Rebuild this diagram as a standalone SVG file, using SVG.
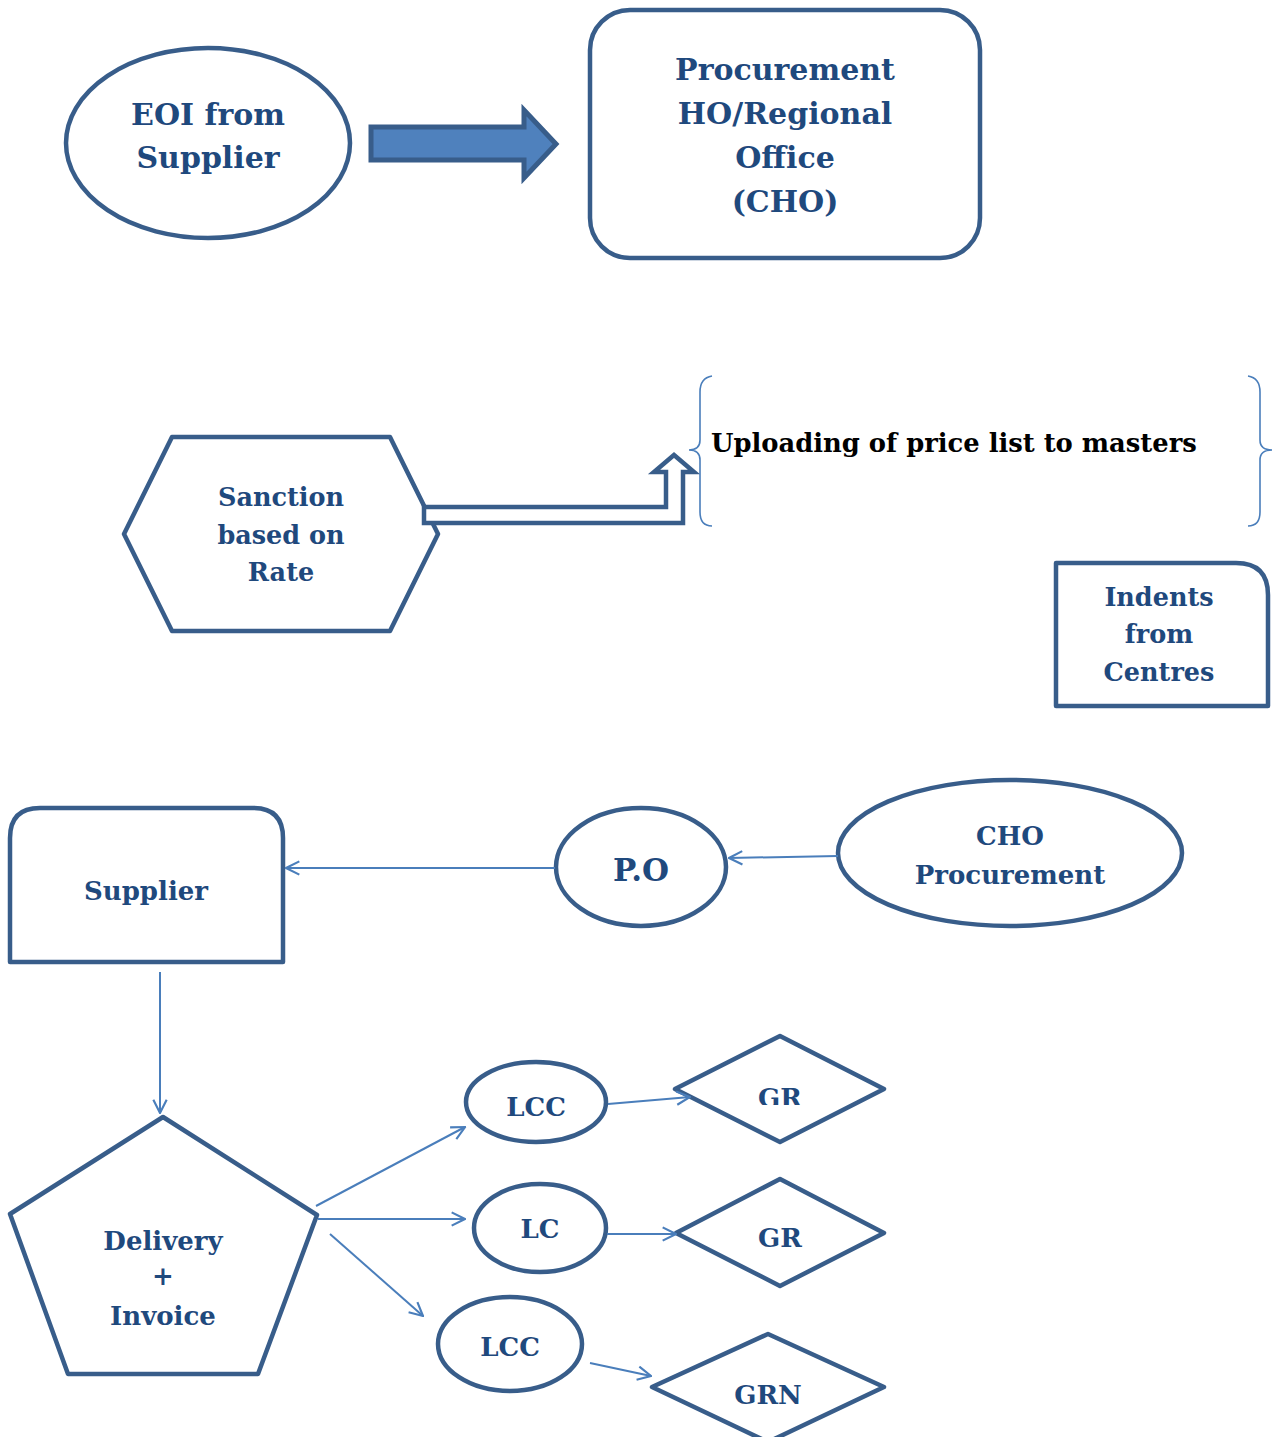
<svg xmlns="http://www.w3.org/2000/svg" width="1275" height="1437" viewBox="0 0 1275 1437">
  <style>
    .shape { fill: #ffffff; stroke: #385D8A; stroke-width: 4.5; stroke-linejoin: round; }
    .lbl { font-family: "DejaVu Serif", "Liberation Serif", serif; font-weight: bold; fill: #1F497D; text-anchor: middle; }
    .conn { fill: none; stroke: #4A7EBB; stroke-width: 2; }
    .brace { fill: none; stroke: #4A7EBB; stroke-width: 1.6; }
  </style>
  <defs>
    <marker id="open" viewBox="0 0 12 12" refX="11" refY="6" markerWidth="16" markerHeight="16" markerUnits="userSpaceOnUse" orient="auto">
      <path d="M1,1 L11,6 L1,11" fill="none" stroke="#4A7EBB" stroke-width="1.6"/>
    </marker>
    <clipPath id="clipGR1"><rect x="700" y="1060" width="160" height="45"/></clipPath>
    <clipPath id="clipGRN"><rect x="700" y="1360" width="160" height="44"/></clipPath>
  </defs>
  <rect width="1275" height="1437" fill="#ffffff"/>

  <!-- EOI from Supplier -->
  <g id="eoi">
    <ellipse class="shape" cx="208" cy="143" rx="142" ry="95"/>
    <text class="lbl" font-size="30" x="208" y="125">EOI from</text>
    <text class="lbl" font-size="30" x="208" y="168">Supplier</text>
  </g>

  <!-- block arrow EOI -> CHO -->
  <g id="block-arrow">
    <path d="M371,127 L524,127 L524,110 L556,144 L524,178 L524,160 L371,160 Z" fill="#4F81BD" stroke="#385D8A" stroke-width="5" stroke-linejoin="miter"/>
  </g>

  <!-- Procurement HO / Regional Office -->
  <g id="cho-office">
    <rect class="shape" x="590" y="10" width="390" height="248" rx="40" ry="40"/>
    <text class="lbl" font-size="30" x="785" y="80">Procurement</text>
    <text class="lbl" font-size="30" x="785" y="124">HO/Regional</text>
    <text class="lbl" font-size="30" x="785" y="168">Office</text>
    <text class="lbl" font-size="30" x="785" y="212">(CHO)</text>
  </g>

  <!-- Sanction based on Rate -->
  <g id="sanction">
    <polygon class="shape" points="172,437 390,437 438,534 390,631 172,631 124,534"/>
    <text class="lbl" font-size="25.5" x="281" y="506">Sanction</text>
    <text class="lbl" font-size="25.5" x="281" y="544">based on</text>
    <text class="lbl" font-size="25.5" x="281" y="581">Rate</text>
  </g>

  <!-- bent up-arrow towards the upload note -->
  <g id="bent-arrow">
    <path d="M424,507 L666,507 L666,472 L654,472 L674,455 L694,472 L683,472 L683,523 L424,523 Z" fill="#ffffff" stroke="#385D8A" stroke-width="4.5" stroke-linejoin="miter"/>
  </g>

  <!-- Uploading of price list to masters -->
  <g id="upload-note">
    <path class="brace" d="M712,376 Q700,378 700,392 L700,440 Q700,450 689,450 Q700,450 700,460 L700,512 Q700,526 712,526"/>
    <path class="brace" d="M1248,376 Q1260,378 1260,392 L1260,440 Q1260,450 1272,450 Q1260,450 1260,460 L1260,512 Q1260,526 1248,526"/>
    <text font-family="DejaVu Serif, Liberation Serif, serif" font-weight="bold" font-size="25.8" fill="#000000" x="711" y="452">Uploading of price list to masters</text>
  </g>

  <!-- Indents from Centres -->
  <g id="indents">
    <path class="shape" d="M1056,563 L1236,563 Q1268,563 1268,595 L1268,706 L1056,706 Z" stroke-linejoin="miter"/>
    <text class="lbl" font-size="25.5" x="1159" y="606">Indents</text>
    <text class="lbl" font-size="25.5" x="1159" y="643">from</text>
    <text class="lbl" font-size="25.5" x="1159" y="681">Centres</text>
  </g>

  <!-- Supplier -->
  <g id="supplier">
    <path class="shape" d="M10,962 L10,838 Q10,808 40,808 L253,808 Q283,808 283,838 L283,962 Z" stroke-linejoin="miter"/>
    <text class="lbl" font-size="26" x="146" y="900">Supplier</text>
  </g>

  <!-- P.O -->
  <g id="po">
    <ellipse class="shape" cx="641" cy="867" rx="85" ry="59"/>
    <text class="lbl" font-size="31" x="641" y="881">P.O</text>
  </g>

  <!-- CHO Procurement -->
  <g id="cho-procurement">
    <ellipse class="shape" cx="1010" cy="853" rx="172" ry="73"/>
    <text class="lbl" font-size="26" x="1010" y="845">CHO</text>
    <text class="lbl" font-size="26" x="1010" y="884">Procurement</text>
  </g>

  <!-- Delivery + Invoice -->
  <g id="delivery">
    <polygon class="shape" points="163,1117 317,1215 258,1374 68,1374 10,1214" stroke-linejoin="miter"/>
    <text class="lbl" font-size="26" x="163" y="1250">Delivery</text>
    <text class="lbl" font-size="26" x="163" y="1285">+</text>
    <text class="lbl" font-size="26" x="163" y="1325">Invoice</text>
  </g>

  <!-- LCC (upper) -->
  <g id="lcc-1">
    <ellipse class="shape" cx="536" cy="1102" rx="70" ry="40"/>
    <text class="lbl" font-size="26" x="536" y="1116">LCC</text>
  </g>

  <!-- LC -->
  <g id="lc">
    <ellipse class="shape" cx="540" cy="1228" rx="66" ry="44"/>
    <text class="lbl" font-size="26" x="540" y="1238">LC</text>
  </g>

  <!-- LCC (lower) -->
  <g id="lcc-2">
    <ellipse class="shape" cx="510" cy="1344" rx="72" ry="47"/>
    <text class="lbl" font-size="26" x="510" y="1356">LCC</text>
  </g>

  <!-- GR (upper) -->
  <g id="gr-1">
    <polygon class="shape" points="675,1089 780,1036 884,1089 780,1142"/>
    <text class="lbl" font-size="26" x="780" y="1107" clip-path="url(#clipGR1)">GR</text>
  </g>

  <!-- GR (middle) -->
  <g id="gr-2">
    <polygon class="shape" points="676,1233 780,1179 884,1233 780,1286"/>
    <text class="lbl" font-size="26" x="780" y="1247">GR</text>
  </g>

  <!-- GRN -->
  <g id="grn">
    <polygon class="shape" points="652,1387 768,1334 884,1387 768,1442"/>
    <text class="lbl" font-size="26" x="768" y="1404" clip-path="url(#clipGRN)">GRN</text>
  </g>

  <!-- connectors -->
  <g id="connectors">
    <line class="conn" x1="555" y1="868" x2="286" y2="868" marker-end="url(#open)"/>
    <line class="conn" x1="838" y1="856" x2="729" y2="858" marker-end="url(#open)"/>
    <line class="conn" x1="160" y1="972" x2="160" y2="1113" marker-end="url(#open)"/>
    <line class="conn" x1="316" y1="1206" x2="465" y2="1127" marker-end="url(#open)"/>
    <line class="conn" x1="318" y1="1219" x2="465" y2="1219" marker-end="url(#open)"/>
    <line class="conn" x1="330" y1="1234" x2="423" y2="1316" marker-end="url(#open)"/>
    <line class="conn" x1="608" y1="1104" x2="690" y2="1097" marker-end="url(#open)"/>
    <line class="conn" x1="607" y1="1234" x2="676" y2="1234" marker-end="url(#open)"/>
    <line class="conn" x1="590" y1="1363" x2="651" y2="1376" marker-end="url(#open)"/>
  </g>
</svg>
